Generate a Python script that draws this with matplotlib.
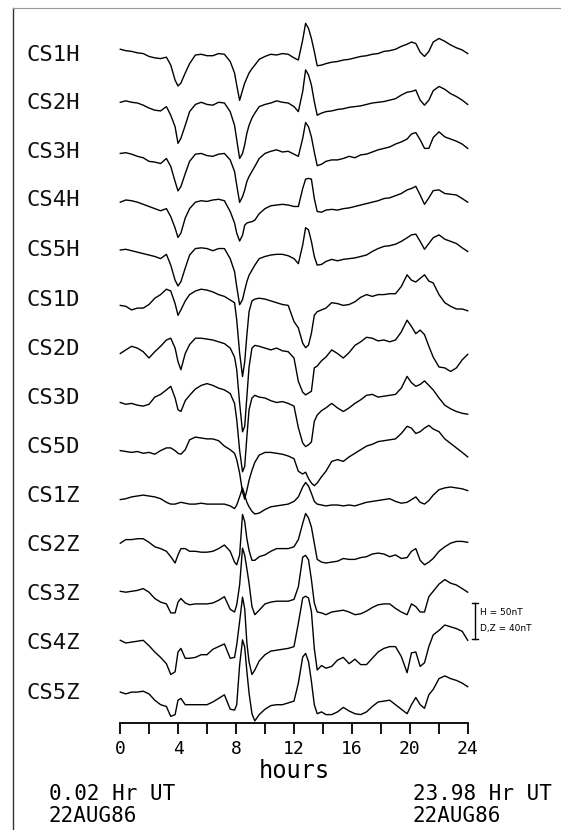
import matplotlib
matplotlib.use("Agg")
import matplotlib.pyplot as plt
from matplotlib.lines import Line2D

# ---------------- data (hours UT, deflections in nT) ----------------
hours = [0.02, 0.4, 0.8, 1.2, 1.6, 2.0, 2.4, 2.8, 3.2, 3.5,
         3.8, 4.0, 4.2, 4.5, 4.8, 5.2, 5.6, 6.0, 6.4, 6.8,
         7.2, 7.6, 7.9, 8.05, 8.25, 8.45, 8.6, 8.75, 8.9, 9.1,
         9.3, 9.6, 10.0, 10.4, 10.8, 11.2, 11.6, 12.0, 12.3, 12.6,
         12.8, 13.0, 13.2, 13.4, 13.6, 13.9, 14.2, 14.6, 15.0, 15.4,
         15.8, 16.2, 16.6, 17.0, 17.4, 17.8, 18.2, 18.6, 19.0, 19.4,
         19.8, 20.1, 20.4, 20.7, 21.0, 21.3, 21.6, 22.0, 22.4, 22.8,
         23.2, 23.6, 23.98]

station_labels = ["CS1H", "CS2H", "CS3H", "CS4H", "CS5H",
                  "CS1D", "CS2D", "CS3D", "CS5D",
                  "CS1Z", "CS2Z", "CS3Z", "CS4Z", "CS5Z"]
components = ["H", "H", "H", "H", "H", "D", "D", "D", "D", "Z", "Z", "Z", "Z", "Z"]

cs1h = [8, 6, 5, 3, 2, -2, -4, -5, -3, -14,
        -35, -43, -39, -25, -12, 0, 1, -1, -1, 2,
        1, -9, -25, -42, -63, -49, -39, -32, -25, -19,
        -14, -6, -2, 1, 0, 2, 1, -4, -7, 21,
        44, 37, 23, 5, -15, -14, -12, -10, -9, -7,
        -6, -4, -2, -1, 1, 2, 5, 6, 8, 12,
        15, 18, 16, 4, -2, 5, 18, 23, 19, 14,
        10, 7, 2]
cs2h = [1, 3, 1, 0, -3, -7, -10, -11, -5, -17,
        -33, -56, -49, -31, -12, -2, 1, -2, -3, 1,
        0, -12, -31, -51, -77, -70, -58, -42, -31, -21,
        -14, -5, -2, 0, 3, 1, 0, -5, -12, 16,
        46, 39, 25, 2, -17, -14, -12, -11, -9, -8,
        -6, -5, -4, -2, 0, 1, 2, 4, 6, 11,
        15, 16, 18, 4, -3, 4, 17, 23, 19, 13,
        9, 4, -2]
cs3h = [-2, -1, -3, -6, -8, -13, -14, -16, -9, -20,
        -41, -54, -48, -30, -13, -3, -2, -5, -6, -3,
        -2, -11, -27, -46, -70, -62, -53, -41, -34, -27,
        -20, -9, -2, 1, 3, 0, 1, -3, -6, 19,
        41, 35, 21, 0, -19, -17, -13, -11, -11, -9,
        -6, -8, -4, -3, 0, 3, 5, 7, 11, 14,
        18, 25, 27, 17, 5, 5, 20, 28, 21, 18,
        15, 11, 5]
cs4h = [-3, 0, -1, -3, -6, -9, -12, -15, -12, -23,
        -39, -52, -46, -25, -12, -3, -1, -2, 0, 1,
        -1, -16, -32, -46, -57, -49, -35, -32, -31, -30,
        -28, -19, -12, -8, -7, -6, -7, -9, -9, 16,
        29, 30, 29, 2, -16, -17, -14, -13, -14, -12,
        -11, -9, -7, -5, -3, -1, 2, 3, 6, 9,
        14, 16, 19, 7, -6, 3, 13, 14, 9, 8,
        7, 2, -3]
cs5h = [0, 1, -1, -3, -5, -7, -9, -12, -6, -21,
        -42, -50, -44, -25, -7, 2, 3, 2, -1, 2,
        2, -12, -30, -51, -76, -69, -56, -44, -35, -28,
        -21, -12, -9, -7, -6, -6, -8, -12, -19, 7,
        31, 28, 12, -9, -21, -20, -16, -13, -15, -13,
        -12, -11, -9, -7, -2, 2, 5, 6, 8, 12,
        17, 21, 22, 12, 1, 9, 17, 21, 15, 12,
        9, 3, -2]
cs1d = [-6, -7, -11, -9, -9, -5, 2, 6, 12, 10,
        -4, -17, -11, -1, 6, 10, 12, 11, 9, 6,
        4, 0, -3, -22, -59, -85, -69, -39, -13, -1,
        1, 2, 1, -1, -3, -5, -6, -24, -31, -48,
        -53, -50, -37, -17, -13, -11, -9, -3, -4, -6,
        -5, -2, 3, 6, 4, 6, 6, 7, 7, 15,
        28, 22, 20, 24, 28, 21, 19, 6, -3, -7,
        -10, -10, -12]
cs2d = [-5, -1, 3, 1, -3, -10, -3, 3, 10, 12,
        1, -14, -23, -5, 5, 12, 12, 11, 10, 8,
        6, 1, -9, -23, -60, -92, -86, -53, -20, 1,
        4, 3, 1, -1, 1, -2, -3, -10, -36, -48,
        -51, -49, -47, -21, -19, -13, -9, -1, -5, -10,
        -4, 4, 8, 13, 12, 9, 10, 8, 10, 19,
        32, 25, 17, 21, 16, 3, -9, -20, -21, -25,
        -21, -12, -6]
cs3d = [-5, -7, -6, -8, -9, -7, 1, 4, 9, 13,
        0, -13, -15, -3, 3, 10, 14, 16, 14, 11,
        9, 5, -6, -24, -58, -82, -76, -43, -13, 0,
        3, 1, 0, -3, -5, -4, -6, -9, -33, -50,
        -54, -52, -49, -26, -19, -14, -11, -6, -11, -15,
        -11, -6, -2, 3, 4, 1, 2, 3, 4, 11,
        24, 17, 13, 15, 19, 14, 9, 0, -8, -12,
        -15, -17, -18]
cs5d = [-4, -5, -6, -5, -7, -6, -8, -4, -1, -1,
        -4, -7, -8, -3, 8, 11, 10, 9, 9, 7,
        1, -3, -7, -14, -29, -50, -58, -48, -37, -26,
        -17, -9, -6, -6, -7, -8, -10, -13, -27, -30,
        -28, -35, -40, -43, -40, -33, -27, -16, -14, -16,
        -11, -7, -3, 1, 3, 6, 7, 8, 9, 15,
        23, 21, 15, 17, 21, 24, 20, 17, 9, 4,
        -1, -6, -11]
cs1z = [-4, -3, -1, 0, 1, 0, -1, -3, -7, -9,
        -9, -8, -7, -8, -9, -9, -8, -9, -9, -9,
        -9, -11, -14, -10, -1, 9, 1, -7, -12, -17,
        -20, -19, -15, -12, -11, -10, -9, -6, -1, 10,
        15, 11, 3, -6, -9, -10, -11, -10, -10, -11,
        -10, -11, -9, -7, -6, -5, -4, -3, -6, -8,
        -7, -4, -1, -7, -9, -5, 1, 7, 9, 10,
        9, 8, 6]
cs2z = [2, 6, 6, 7, 7, 3, -2, -4, -7, -13,
        -20, -11, -4, -4, -7, -7, -8, -8, -7, -4,
        0, -7, -19, -22, -11, 34, 26, 7, -6, -17,
        -17, -13, -11, -7, -4, -4, -4, -2, 6, 24,
        35, 30, 20, 2, -16, -19, -20, -19, -18, -15,
        -16, -16, -14, -13, -10, -9, -10, -13, -11, -15,
        -14, -7, -4, -17, -22, -19, -15, -7, -2, 2,
        4, 4, 3]
cs3z = [3, 2, 3, 4, 6, 2, -5, -9, -11, -21,
        -21, -9, -5, -10, -12, -11, -11, -11, -10, -7,
        -3, -17, -20, -12, 10, 51, 43, 28, 12, -14,
        -23, -18, -11, -9, -8, -8, -8, -6, 8, 41,
        43, 38, 16, -10, -20, -21, -23, -20, -19, -18,
        -20, -23, -22, -19, -15, -12, -11, -11, -16, -20,
        -23, -11, -14, -20, -20, -3, 3, 11, 16, 12,
        10, 6, 2]
cs4z = [3, 0, 1, 2, 3, -3, -10, -16, -23, -35,
        -32, -10, -6, -17, -17, -16, -13, -13, -7, -4,
        -1, -17, -16, -2, 24, 51, 38, 0, -21, -35,
        -30, -20, -13, -9, -8, -7, -6, -4, 22, 50,
        52, 50, 35, -6, -30, -25, -28, -26, -19, -16,
        -23, -18, -24, -24, -17, -10, -6, -4, -4, -15,
        -33, -11, -10, -26, -22, -4, 9, 14, 20, 18,
        16, 13, 3]
cs5z = [1, -1, 1, 1, 2, -1, -8, -13, -15, -26,
        -24, -8, -6, -13, -13, -13, -13, -13, -10, -6,
        -2, -18, -19, -13, 31, 59, 51, 24, 0, -23,
        -31, -24, -18, -14, -13, -13, -11, -9, 11, 40,
        44, 35, 13, -13, -23, -21, -24, -24, -21, -16,
        -20, -23, -24, -21, -15, -10, -9, -8, -13, -18,
        -23, -13, -5, -13, -17, -2, 4, 16, 19, 16,
        14, 11, 7]

traces = [cs1h, cs2h, cs3h, cs4h, cs5h, cs1d, cs2d, cs3d, cs5d,
          cs1z, cs2z, cs3z, cs4z, cs5z]

x_ticks_major = [0, 4, 8, 12, 16, 20, 24]
x_ticks_minor = [2, 6, 10, 14, 18, 22]
scale_h_nt = 50
scale_dz_nt = 40

# ---------------- layout ----------------
W, H = 568, 830
fig = plt.figure(figsize=(W / 100, H / 100), dpi=100)
X0, X1 = 120, 468          # pixel columns of 0 h and 24 h
AX_BOTTOM = 723            # pixel row of the time axis
ax = fig.add_axes([X0 / W, (H - AX_BOTTOM) / H, (X1 - X0) / W, AX_BOTTOM / H])
ax.set_xlim(0, 24)
ax.set_ylim(AX_BOTTOM, 0)  # vertical layout in pixel rows from top

offsets = [55, 103, 152, 200, 250, 300, 349, 398, 447, 496, 545, 594, 643, 693]
px_per_nt = {"H": 36 / scale_h_nt, "D": 36 / scale_dz_nt, "Z": 36 / scale_dz_nt}

mono = "DejaVu Sans Mono"

for lab, vals, comp, off in zip(station_labels, traces, components, offsets):
    y = [off - v * px_per_nt[comp] for v in vals]
    ax.plot(hours, y, color="black", lw=1.0, clip_on=False, solid_joinstyle="round")
    fig.text(27 / W, 1 - off / H, lab, ha="left", va="center",
             family=mono, fontsize=16, color="#111111")

for s in ["left", "right", "top"]:
    ax.spines[s].set_visible(False)
ax.spines["bottom"].set_linewidth(1.3)
ax.set_yticks([])
ax.set_xticks(x_ticks_major)
ax.set_xticks(x_ticks_minor, minor=True)
ax.set_xticklabels([str(t) for t in x_ticks_major], family=mono, fontsize=13)
ax.tick_params(axis="x", which="both", direction="out", length=8, width=1.3,
               color="black")
ax.tick_params(axis="x", which="major", pad=4)
ax.patch.set_visible(False)

fig.text(294 / W, 1 - 771 / H, "hours", ha="center", va="center",
         family=mono, fontsize=17)
fig.text(49 / W, 1 - 794 / H, "0.02 Hr UT", ha="left", va="center", family=mono, fontsize=15)
fig.text(49 / W, 1 - 816 / H, "22AUG86", ha="left", va="center", family=mono, fontsize=15)
fig.text(413 / W, 1 - 794 / H, "23.98 Hr UT", ha="left", va="center", family=mono, fontsize=15)
fig.text(413 / W, 1 - 816 / H, "22AUG86", ha="left", va="center", family=mono, fontsize=15)

# scale bar
bar_x = 24 + (475 - X1) / ((X1 - X0) / 24)
bar_top = 603
bar_len = scale_h_nt * px_per_nt["H"]
cap = 0.2
ax.plot([bar_x, bar_x], [bar_top, bar_top + bar_len], color="black", lw=1.0, clip_on=False)
ax.plot([bar_x - cap, bar_x + cap], [bar_top, bar_top], color="black", lw=1.0, clip_on=False)
ax.plot([bar_x - cap, bar_x + cap], [bar_top + bar_len, bar_top + bar_len],
        color="black", lw=1.0, clip_on=False)
fig.text(480 / W, 1 - 612 / H, "H = 50nT", ha="left", va="center",
         family="DejaVu Sans", fontsize=6.5)
fig.text(480 / W, 1 - 628 / H, "D,Z = 40nT", ha="left", va="center",
         family="DejaVu Sans", fontsize=6.5)

# frame lines
fig.add_artist(Line2D([13 / W, 13 / W], [1 - 8 / H, 0], color="#333333", lw=1.0))
fig.add_artist(Line2D([13 / W, 560 / W], [1 - 8 / H, 1 - 8 / H], color="#999999", lw=0.8))

fig.savefig("out.png", dpi=100)
